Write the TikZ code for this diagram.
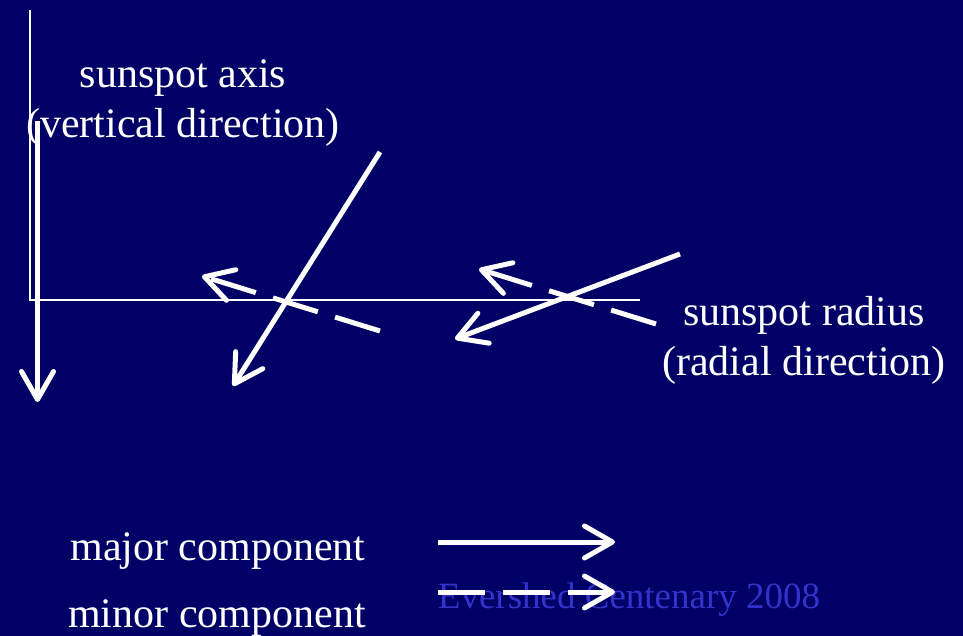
\documentclass[tikz,border=0pt]{standalone}
\usepackage{fontspec}
\setmainfont{Liberation Serif}
\usetikzlibrary{arrows.meta}
\definecolor{bgnavy}{HTML}{000066}
\definecolor{wmark}{HTML}{3333CC}
\tikzset{
  thinline/.style={draw=white, line width=1.8pt},
  vec/.style={draw=white, line width=5pt, -{Straight Barb[length=28pt,width=32pt,round]}},
  dvec/.style={vec, dash pattern=on 47pt off 18pt},
  lbl/.style={text=white, font=\fontsize{42}{50}\selectfont, align=center, inner sep=0pt},
}
\begin{document}
\begin{tikzpicture}[x=1pt,y=-1pt]
\fill[bgnavy] (0,0) rectangle (963,636);
\useasboundingbox (0,0) rectangle (963,636);
% axes frame
\coordinate (ftop) at (30,10);
\coordinate (fcorner) at (30,300);
\coordinate (fright) at (640,300);
\draw[thinline] (ftop) -- (fcorner) -- (fright);
% vertical axis arrow
\coordinate (vs) at (37.5,121);
\coordinate (ve) at (37.5,402);
\draw[vec] (vs) -- (ve);
% left pair
\coordinate (la) at (380,152);
\coordinate (lb) at (233,386);
\draw[vec] (la) -- (lb);
\coordinate (lda) at (380,331);
\coordinate (ldb) at (202,276);
\draw[dvec] (lda) -- (ldb);
% right pair
\coordinate (ra) at (680,254);
\coordinate (rb) at (455,339);
\draw[vec] (ra) -- (rb);
\coordinate (rda) at (656,324);
\coordinate (rdb) at (479,269);
\draw[dvec] (rda) -- (rdb);
% labels
\node[lbl] (axis) at (183,103) {sunspot axis\\(vertical direction)};
\node[lbl] (radius) at (804,340) {sunspot radius\\(radial direction)};
\node[lbl] (major) at (218,551) {major component};
\node[lbl] (minor) at (217,618) {minor component};
\node[text=wmark, font=\fontsize{37}{44}\selectfont, inner sep=0pt] (wm) at (629,600) {Evershed Centenary 2008};
% legend arrows
\coordinate (m1) at (438,542);
\coordinate (m2) at (615,542);
\draw[vec] (m1) -- (m2);
\coordinate (n1) at (438,592);
\coordinate (n2) at (615,592);
\draw[dvec] (n1) -- (n2);
\end{tikzpicture}
\end{document}
